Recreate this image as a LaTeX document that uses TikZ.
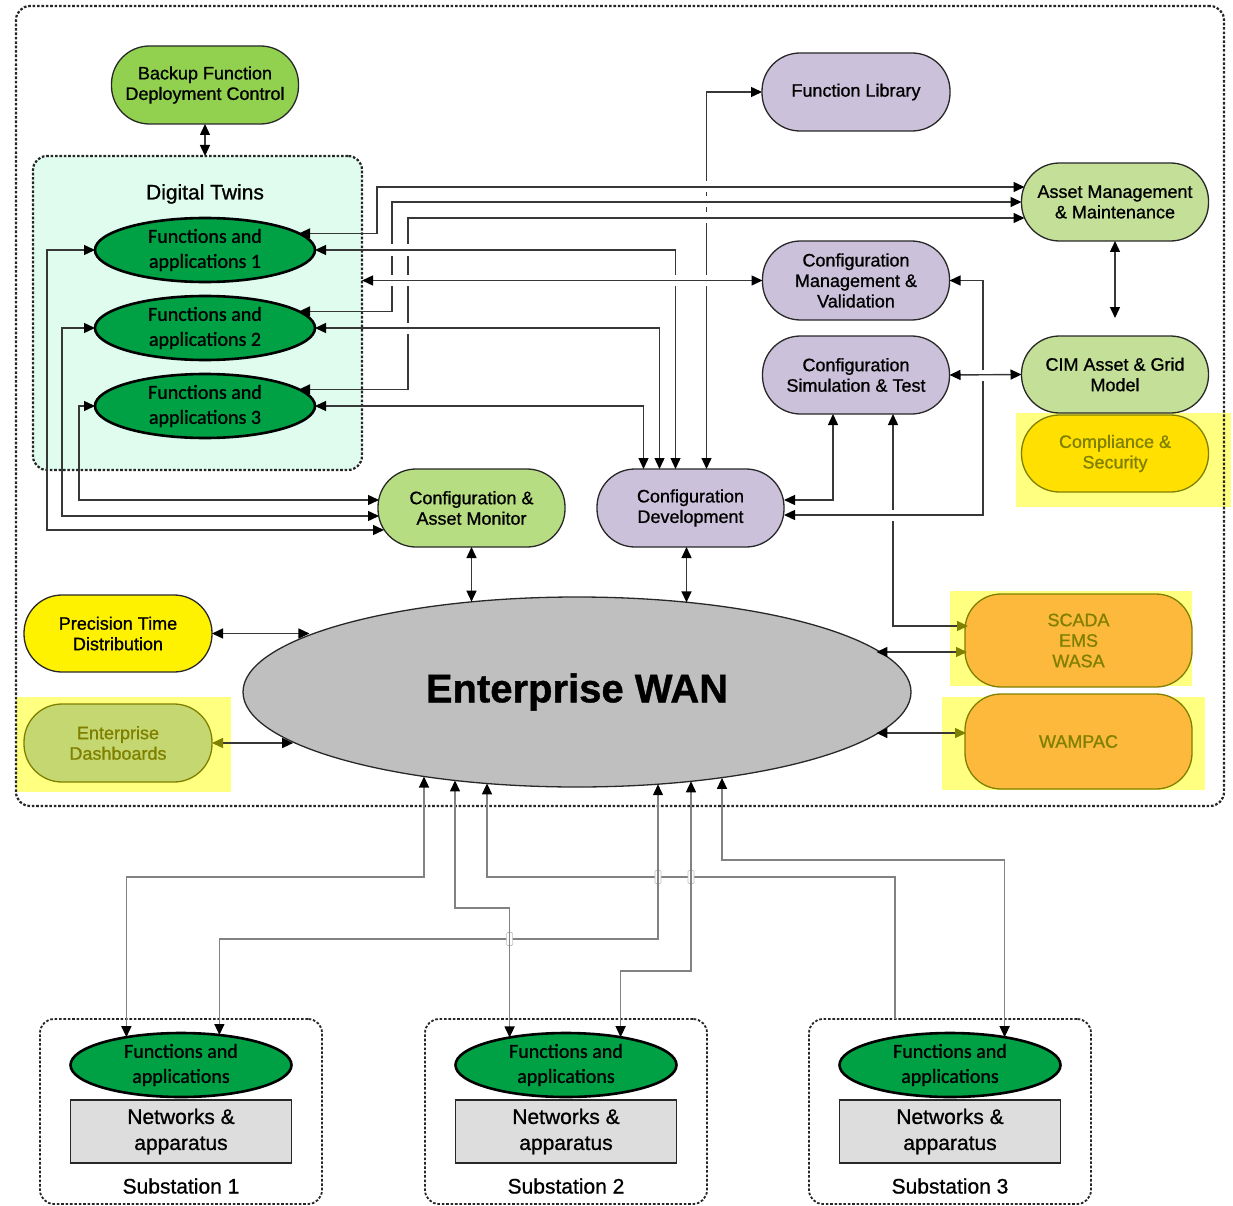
\documentclass[tikz,border=0pt]{standalone}
\usepackage{fontspec}
\setmainfont{Liberation Sans}[FakeBold=0.9]
\newfontfamily\calib{Carlito}[FakeBold=0.9]
\usetikzlibrary{arrows.meta,shapes.geometric}

\definecolor{lav}{RGB}{204,193,218}
\definecolor{lgreen}{RGB}{196,224,152}
\definecolor{mgreen}{RGB}{183,221,130}
\definecolor{bgreen}{RGB}{146,208,80}
\definecolor{dgreen}{RGB}{0,160,68}
\definecolor{mint}{RGB}{224,252,238}
\definecolor{hl}{RGB}{255,255,128}
\definecolor{olivec}{RGB}{128,128,0}
\definecolor{gold}{RGB}{255,224,0}
\definecolor{orangec}{RGB}{253,185,60}
\definecolor{dashg}{RGB}{196,215,112}
\definecolor{wang}{RGB}{191,191,191}
\definecolor{netg}{RGB}{221,221,221}
\definecolor{linec}{RGB}{55,55,55}
\definecolor{lineb}{RGB}{130,130,130}
\definecolor{bord}{RGB}{40,40,40}

\newcommand\vgap[1]{\fill[white] (#1) ++(-2.5,-5.5) rectangle ++(5,11);}
\newcommand\hgap[1]{\filldraw[fill=white, draw=black!25, line width=0.6pt, rounded corners=1pt] (#1) ++(-3,-6.5) rectangle ++(6,13);}

\tikzset{
  blk/.tip={Triangle[length=11pt,width=10pt,color=black]},
  olv/.tip={Triangle[length=11pt,width=10pt,color=olivec]},
  frame/.style={draw=black!85, line width=2.2pt, dash pattern=on 2.6pt off 1.8pt, rounded corners=14pt, inner sep=0pt, outer sep=0pt},
  pill/.style={draw=bord, line width=1.3pt, rounded corners=38pt, minimum width=187pt, minimum height=78pt, align=center, inner sep=1pt, outer sep=0pt, font=\fontsize{18}{20.5}\selectfont},
  hlpill/.style={pill, draw=olivec, text=olivec},
  fa/.style={ellipse, draw=black, line width=2.6pt, fill=dgreen, minimum width=220pt, minimum height=64pt, inner sep=0pt, outer sep=0pt},
  fatext/.style={align=center, inner sep=0pt, font=\calib\fontsize{20}{25}\selectfont},
  netbox/.style={draw=bord, line width=1.3pt, fill=netg, minimum width=221pt, minimum height=63pt, align=center, inner sep=0pt, outer sep=0pt, font=\fontsize{21}{26}\selectfont},
  conn/.style={draw=linec, line width=1.4pt, blk-blk},
  connb/.style={draw=lineb, line width=1.4pt, blk-blk},
}

\begin{document}
\begin{tikzpicture}[x=1pt,y=-1pt]
\useasboundingbox (0,0) rectangle (1233,1206);

% highlights
\fill[hl] (1016,413) rectangle (1231,507);
\fill[hl] (16,697) rectangle (231,792);
\fill[hl] (950,591) rectangle (1192,686);
\fill[hl] (942,697) rectangle (1205,790);

% frames
\node[frame, minimum width=1208pt, minimum height=800pt] (outer) at (620,406) {};
\node[frame, fill=mint, minimum width=329pt, minimum height=314pt] (dt) at (197.5,313) {};
\node[font=\fontsize{21}{24}\selectfont] (dtt) at (205,194) {Digital Twins};

% nodes
\node[pill, fill=bgreen] (backup) at (205,85) {Backup Function\\Deployment Control};
\node[fa] (fa1) at (205,250) {};
\node[fatext] (fa1t) at (fa1) {Functions and\\applications 1};
\node[fa] (fa2) at (205,328) {};
\node[fatext] (fa2t) at (fa2) {Functions and\\applications 2};
\node[fa] (fa3) at (205,406) {};
\node[fatext] (fa3t) at (fa3) {Functions and\\applications 3};

\node[pill, fill=lav, minimum width=188pt] (flib) at (856,92) {Function Library};
\node[pill, fill=lgreen] (am) at (1115,202) {Asset Management\\\& Maintenance};
\node[pill, fill=lav, minimum height=79pt] (cmv) at (856,280.5) {Configuration\\Management \&\\Validation};
\node[pill, fill=lav] (cst) at (856,375) {Configuration\\Simulation \& Test};
\node[pill, fill=lgreen, minimum height=77pt] (cim) at (1115,374.5) {CIM Asset \& Grid\\Model};
\node[hlpill, fill=gold, minimum height=77pt] (comp) at (1115,453.5) {Compliance \&\\Security};
\node[pill, fill=mgreen] (cam) at (471.5,508) {Configuration \&\\Asset Monitor};
\node[pill, fill=lav] (cdev) at (690.5,508) {Configuration\\Development};

\node[ellipse, draw=bord, line width=1.3pt, fill=wang, minimum width=668pt, minimum height=190pt, inner sep=0pt, outer sep=0pt, font=\fontsize{40}{46}\selectfont\bfseries] (wan) at (577,692) {Enterprise WAN};

\node[pill, fill=yellow, minimum width=188pt, minimum height=77pt] (ptd) at (118,633.5) {Precision Time\\Distribution};
\node[hlpill, fill=dashg, minimum width=188pt] (ed) at (118,743) {Enterprise\\Dashboards};
\node[hlpill, fill=orangec, minimum width=227pt, minimum height=93pt, rounded corners=36pt] (scada) at (1078.5,640.5) {SCADA\\EMS\\WASA};
\node[hlpill, fill=orangec, minimum width=227pt, minimum height=95pt, rounded corners=36pt] (wampac) at (1078.5,741.5) {WAMPAC};

% substations
\foreach \i/\x in {1/181,2/566,3/950}{
  \node[frame, line width=1.8pt, minimum width=282pt, minimum height=185pt] (sb\i) at (\x,1111.5) {};
  \node[fa, minimum width=221pt] (sf\i) at (\x,1065) {};
  \node[fatext] (st\i) at (sf\i) {Functions and\\applications};
  \node[netbox] (sn\i) at (\x,1131.5) {Networks \&\\apparatus};
  \node[font=\fontsize{21}{24}\selectfont] (sl\i) at (\x,1186) {Substation \i};
}

% ---------- helper coordinates
\coordinate (xFL) at ([xshift=16pt]cdev.north);
\coordinate (xF1) at ([xshift=-15pt]cdev.north);
\coordinate (xF2) at ([xshift=-31pt]cdev.north);
\coordinate (xF3) at ([xshift=-47pt]cdev.north);
\coordinate (xSC) at ([xshift=37pt]cst.south);
\coordinate (xCS) at ([xshift=-23pt]cst.south);
\coordinate (am1) at ([yshift=15pt,xshift=3pt]am.west);
\coordinate (am2) at (am.west);
\coordinate (am3) at ([yshift=-16pt,xshift=3pt]am.west);
\coordinate (kx1) at (377,0);
\coordinate (kx2) at (392,0);
\coordinate (kx3) at (408,0);
\coordinate (xCM) at (983,0);
\coordinate (cd1) at ([yshift=8pt]cdev.east);
\coordinate (cd2) at ([yshift=-7pt]cdev.east);
\coordinate (scw) at ([yshift=14.5pt,xshift=3pt]scada.west);
\coordinate (sc2) at ([yshift=-11.5pt,xshift=2pt]scada.west);
\coordinate (wpw) at ([yshift=8.5pt,xshift=1pt]wampac.west);
\coordinate (kl1) at (47,0);
\coordinate (kl2) at (62,0);
\coordinate (kl3) at (79,0);
\coordinate (cam1) at ([yshift=8pt,xshift=1pt]cam.west);
\coordinate (cam2) at ([yshift=-8pt,xshift=1pt]cam.west);
\coordinate (cam3) at ([yshift=-22pt,xshift=6pt]cam.west);
\coordinate (cdw) at ([xshift=-4pt]cdev.south);

% ---------- top connectors (layered for line gaps)
\draw[conn] (flib.west) -| (xFL);
\draw[conn, blk-olv] (xSC) |- (scw);
\vgap{xFL |- am1}\vgap{xFL |- am2}\vgap{xFL |- am3}\vgap{xFL |- cmv.west}\vgap{xSC |- cd2}
\draw[conn] (fa1.10) -| (kx1 |- am1) -- (am1);
\draw[conn] (fa2.10) -| (kx2 |- am2) -- (am2);
\draw[conn] (fa3.10) -| (kx3 |- am3) -- (am3);
\draw[conn] (cmv.east) -| (xCM |- cd2) -- (cd2);
\vgap{kx2 |- fa1.east}\vgap{kx3 |- fa1.east}\vgap{kx3 |- fa2.east}\vgap{xCM |- cst.east}
\draw[conn] (fa1.east) -| (xF1);
\draw[conn] (fa2.east) -| (xF2);
\draw[conn] (fa3.east) -| (xF3);
\draw[conn] (cst.east) -- (cim.west);
\vgap{kx2 |- cmv.west}\vgap{kx3 |- cmv.west}\vgap{xF1 |- cmv.west}
\draw[conn] (cmv.west) -- (cmv.west -| dt.east);
\draw[conn] (xCS) |- (cd1);
\draw[conn, shorten >=18pt] (am.south) -- (cim.north);
\draw[conn] (backup.south) -- (backup.south |- dt.north);

% left connectors to Configuration & Asset Monitor
\draw[conn] (fa3.west) -| (kl3 |- cam1) -- (cam1);
\draw[conn] (fa2.west) -| (kl2 |- cam2) -- (cam2);
\draw[conn] (fa1.west) -| (kl1 |- cam3) -- (cam3);

% WAN connectors
\draw[conn] (cam.south) -- (cam.south |- wan.139);
\draw[conn] (cdw) -- (cdw |- wan.39);
\draw[conn] (ptd.east) -- (ptd.east -| wan.168);
\draw[conn, olv-blk] (ed.east) -- (ed.east -| wan.190);
\draw[conn, blk-olv] (sc2 -| wan.8) -- (sc2);
\draw[conn, blk-olv] (wpw -| wan.352) -- (wpw);

% ---------- bottom connectors
\coordinate (yb1) at (0,877);
\coordinate (yb2) at (0,908);
\coordinate (yb3) at (0,939);
\coordinate (yb4) at (0,971);
\coordinate (yb5) at (0,860);
\coordinate (bx1) at (424,0);
\coordinate (bx2) at (455,0);
\coordinate (bx3) at (487,0);
\coordinate (bx4) at (658,0);
\coordinate (bx5) at (691,0);
\coordinate (bx6) at (722,0);
\coordinate (s3in) at ([xshift=-55pt]sb3.north);

\draw[connb, blk-] (bx3 |- wan.225) -- (bx3 |- yb1) -| (s3in);
\hgap{bx4 |- yb1}\hgap{bx5 |- yb1}
\draw[connb] (bx4 |- wan.311) -- (bx4 |- yb3) -| (sf1.38);
\hgap{sf2.154 |- yb3}
\draw[connb] (bx5 |- wan.322) -- (bx5 |- yb4) -| (sf2.27);
\draw[connb] (bx2 |- wan.216) -- (bx2 |- yb2) -| (sf2.154);
\draw[connb] (bx1 |- wan.209) -- (bx1 |- yb1) -| (sf1.153);
\draw[connb] (bx6 |- wan.329) -- (bx6 |- yb5) -| (sf3.27);
\end{tikzpicture}
\end{document}
